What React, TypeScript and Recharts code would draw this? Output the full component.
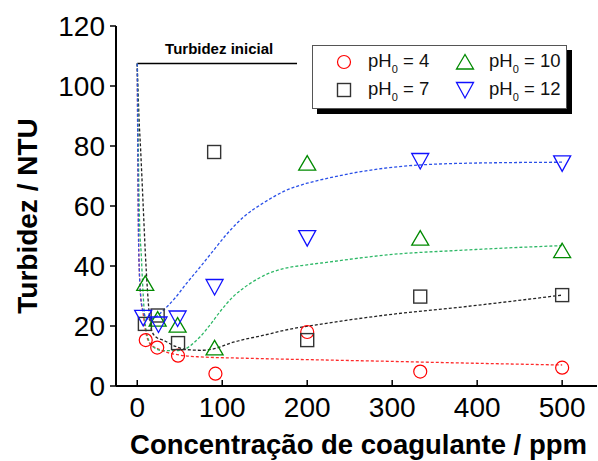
import { ComposedChart, Legend, Line, ReferenceLine, Scatter, XAxis, YAxis } from "recharts";

const FONT = "'Liberation Sans', Arial, Helvetica, sans-serif";

const TICKS_X = [0, 100, 200, 300, 400, 500];
const TICKS_Y = [0, 20, 40, 60, 80, 100, 120];
const TURBIDEZ_INICIAL = 107.5;

// pontos experimentais [ppm, NTU]
const ph4 = [[10, 15.3], [23.5, 12.8], [48, 10.1], [92, 4.1], [200, 18], [333, 4.8], [500, 6.1]];
const ph7 = [[9, 20.7], [24, 23.5], [48, 14.3], [90.5, 78], [200, 15.3], [333, 29.8], [500, 30.3]];
const ph10 = [[9.4, 34.2], [24, 22.3], [47.5, 20.3], [91, 12.7], [200, 74.3], [333, 49.3], [500, 45.1]];
const ph12 = [[7, 22.7], [25, 20.5], [47.5, 22.5], [91, 33], [200, 49.3], [333, 75], [500, 74.2]];

// curvas ajustadas
const fit4 = [[0, 107.5], [0.5, 85], [1, 65], [1.5, 50], [2.5, 38], [4, 30], [7, 24], [10, 18], [14, 14.5], [18, 13.3], [23.5, 12.5], [35, 11.2], [50, 10.3], [74, 9.7], [121, 9.3], [215, 8.7], [300, 8.2], [378, 7.7], [500, 7]];
const fit7 = [[0, 107.5], [1, 98], [2, 90], [4, 78.7], [7, 60], [9.4, 45], [12, 32], [14.5, 23], [17, 18.5], [22, 16.3], [31, 15.2], [45, 13.2], [59, 12.1], [75, 11.9], [89, 12.3], [113, 14.6], [150, 17], [172, 18.5], [225, 21], [294, 23.7], [378, 26.2], [500, 30.3]];
const fit10 = [[0, 107.5], [1, 85], [2, 65], [3, 52], [4.5, 45], [6.5, 33], [9, 22], [12, 16.5], [19, 13], [30, 11.8], [45, 11.8], [55, 12.2], [65, 14], [74, 16.4], [86, 20.5], [98, 25], [113, 29.8], [133, 34.2], [152, 37.2], [172, 39.1], [200, 40.4], [225, 41.3], [260, 42.6], [294, 43.7], [378, 45.2], [500, 46.8]];
const fit12 = [[0, 107.5], [0.5, 85], [1, 65], [1.5, 50], [2.5, 38], [4, 30], [6, 26], [9, 23.5], [13, 22.3], [19, 22.6], [31, 25.3], [45, 29.5], [58, 34.2], [75, 40], [90, 45.3], [105, 50.5], [125, 56.3], [150, 61.3], [175, 65.2], [200, 67.6], [225, 69.3], [260, 71.3], [294, 72.7], [378, 74.2], [500, 74.6]];

const pts = (arr: number[][]) => arr.map(([x, y]) => ({ x, y }));

const Circle = ({ cx, cy }: any) => <circle cx={cx} cy={cy} r={6.5} fill="none" stroke="#ff0000" strokeWidth={1.2} />;
const Square = ({ cx, cy }: any) => <rect x={cx - 6.5} y={cy - 6.5} width={13} height={13} fill="none" stroke="#333" strokeWidth={1.4} />;
const TriUp = ({ cx, cy }: any) => (
  <polygon points={`${cx},${cy - 7.5} ${cx - 8.5},${cy + 7} ${cx + 8.5},${cy + 7}`} fill="none" stroke="#008a00" strokeWidth={1.3} />
);
const TriDown = ({ cx, cy }: any) => (
  <polygon points={`${cx - 8.5},${cy - 7.5} ${cx + 8.5},${cy - 7.5} ${cx},${cy + 8}`} fill="none" stroke="#1010ff" strokeWidth={1.3} />
);

const legendItems = [
  { label: "4", Shape: Circle, col: 0, row: 0 },
  { label: "7", Shape: Square, col: 0, row: 1 },
  { label: "10", Shape: TriUp, col: 1, row: 0 },
  { label: "12", Shape: TriDown, col: 1, row: 1 },
];

function LegendBox() {
  return (
    <div
      style={{
        position: "relative",
        width: 255,
        height: 64,
        border: "1px solid #555",
        background: "#fff",
        boxShadow: "5px 5px 0 #000",
        fontFamily: FONT,
        fontSize: 18.5,
        color: "#111",
        boxSizing: "border-box",
      }}
    >
      {legendItems.map(({ label, Shape, col, row }) => (
        <div key={label} style={{ position: "absolute", left: col ? 140 : 19, top: row ? 33 : 5, height: 22, display: "flex", alignItems: "center" }}>
          <svg width={24} height={22} style={{ overflow: "visible" }}>
            <Shape cx={12} cy={11} />
          </svg>
          <span style={{ marginLeft: 12, whiteSpace: "nowrap" }}>
            pH<span style={{ fontSize: 11, verticalAlign: -6 }}>0</span> = {label}
          </span>
        </div>
      ))}
    </div>
  );
}

const BottomTick = ({ x, y, payload }: any) => (
  <g>
    <line x1={x} x2={x} y1={y} y2={y - 6} stroke="#000" strokeWidth={1.5} />
    <text x={x} y={y + 31} textAnchor="middle" fontSize={28} fontFamily={FONT} fill="#000">
      {payload.value}
    </text>
  </g>
);

const lineProps = { type: "monotone" as const, dataKey: "y", dot: false, activeDot: false, strokeWidth: 1.3, strokeDasharray: "3 2", isAnimationActive: false, xAxisId: "b", yAxisId: "l" };

export default function App() {
  return (
    <div style={{ position: "absolute", left: 0, top: 0 }}>
      <ComposedChart width={598} height={461} margin={{ top: 26, right: 1, bottom: 0, left: 0 }}>
        <XAxis
          xAxisId="b"
          type="number"
          dataKey="x"
          domain={[-25, 541]}
          ticks={TICKS_X}
          allowDataOverflow
          height={75}
          tickLine={false}
          tickSize={0}
          tickMargin={0}
          axisLine={{ stroke: "#000", strokeWidth: 2 }}
          tick={<BottomTick />}
          label={(p: any) => (
            <text x={p.viewBox.x + p.viewBox.width / 2 + 2} y={p.viewBox.y + 68} textAnchor="middle" fontSize={27.5} fontWeight="bold" fontFamily={FONT} fill="#000">
              Concentração de coagulante / ppm
            </text>
          )}
        />
        <XAxis
          xAxisId="t"
          orientation="top"
          type="number"
          dataKey="x"
          domain={[-25, 541]}
          ticks={TICKS_X}
          allowDataOverflow
          height={0}
          mirror
          tick={false}
          tickSize={6}
          tickLine={{ stroke: "#000", strokeWidth: 1.5 }}
          axisLine={{ stroke: "#000", strokeWidth: 2 }}
        />
        <YAxis
          yAxisId="l"
          type="number"
          dataKey="y"
          domain={[0, 120]}
          ticks={TICKS_Y}
          allowDataOverflow
          width={116}
          tickSize={6}
          tickMargin={5}
          tickLine={{ stroke: "#000", strokeWidth: 1.5 }}
          axisLine={{ stroke: "#000", strokeWidth: 2 }}
          tick={{ fontSize: 28, fill: "#000", fontFamily: FONT }}
          label={(p: any) => {
            const cy = p.viewBox.y + p.viewBox.height / 2 + 10;
            return (
              <text x={37} y={cy} transform={`rotate(-90, 37, ${cy})`} textAnchor="middle" fontSize={28} fontWeight="bold" fontFamily={FONT} fill="#000">
                Turbidez / NTU
              </text>
            );
          }}
        />
        <YAxis
          yAxisId="r"
          orientation="right"
          type="number"
          domain={[0, 120]}
          ticks={TICKS_Y}
          allowDataOverflow
          width={0}
          mirror
          tick={false}
          tickSize={6}
          tickLine={{ stroke: "#000", strokeWidth: 1.5 }}
          axisLine={{ stroke: "#000", strokeWidth: 2 }}
        />

        <ReferenceLine
          xAxisId="b"
          yAxisId="l"
          segment={[{ x: 0, y: TURBIDEZ_INICIAL }, { x: 188, y: TURBIDEZ_INICIAL }]}
          stroke="#000"
          strokeWidth={1.3}
          label={{ value: "Turbidez inicial", position: "top", offset: 10, fontSize: 15, fontWeight: "bold", fontFamily: FONT, fill: "#000", dx: 2 }}
        />

        <Line {...lineProps} data={pts(fit4)} stroke="#ff2a2a" />
        <Line {...lineProps} data={pts(fit7)} stroke="#222" />
        <Line {...lineProps} data={pts(fit10)} stroke="#2db866" />
        <Line {...lineProps} data={pts(fit12)} stroke="#2a50e8" />

        <Scatter xAxisId="b" yAxisId="l" data={pts(ph4)} shape={<Circle />} isAnimationActive={false} />
        <Scatter xAxisId="b" yAxisId="l" data={pts(ph7)} shape={<Square />} isAnimationActive={false} />
        <Scatter xAxisId="b" yAxisId="l" data={pts(ph10)} shape={<TriUp />} isAnimationActive={false} />
        <Scatter xAxisId="b" yAxisId="l" data={pts(ph12)} shape={<TriDown />} isAnimationActive={false} />

        <Legend
          layout="vertical"
          align="center"
          verticalAlign="middle"
          wrapperStyle={{ left: 312, top: 45, width: 262, height: 70 }}
          content={() => <LegendBox />}
        />
      </ComposedChart>
    </div>
  );
}
